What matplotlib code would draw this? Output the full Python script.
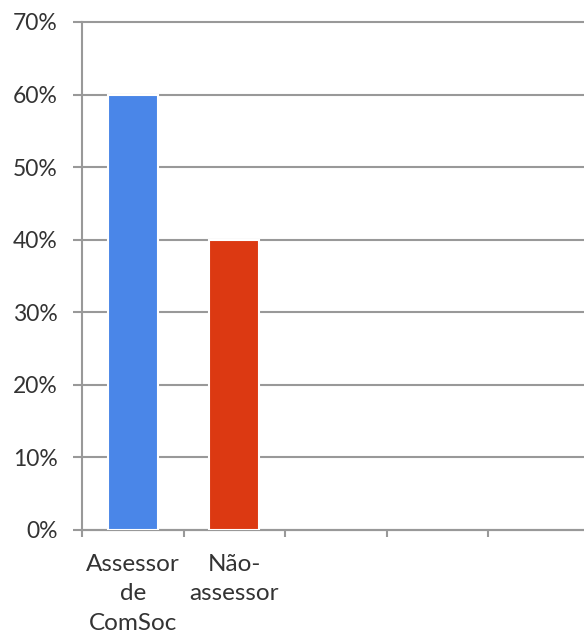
import matplotlib.pyplot as plt
from matplotlib.ticker import FuncFormatter

# categories and values (percent)
categories = ["Assessor\nde\nComSoc", "Não-\nassessor", "", "", ""]
values = [60, 40]
colors = ["#4a86e8", "#dc3912"]
yticks = [0, 10, 20, 30, 40, 50, 60, 70]

plt.rcParams['font.family'] = ['Lato', 'DejaVu Sans']

fig = plt.figure(figsize=(5.84, 6.39), dpi=100)
W, H = 584, 639
left, right = 82, 589.5
bottom, top = 530, 22
ax = fig.add_axes([left / W, 1 - bottom / H, (right - left) / W, (bottom - top) / H])

x = list(range(len(categories)))
ax.bar(x[:len(values)], values, width=0.49, color=colors, edgecolor="white",
       linewidth=1.5, zorder=3)

ax.set_xlim(-0.5, len(categories) - 0.5)
ax.set_ylim(0, 70)
ax.set_yticks(yticks)
ax.yaxis.set_major_formatter(FuncFormatter(lambda v, p: f"{int(v)}%"))
ax.set_xticks([i - 0.5 for i in range(len(categories))])
ax.set_xticklabels([])
ax.set_xticks(x, minor=True)
ax.set_xticklabels(categories, minor=True, fontsize=17.5, color="#333333",
                   linespacing=1.5)
ax.tick_params(axis="x", which="minor", length=0, pad=17)
ax.tick_params(axis="x", which="major", length=5, width=1.5, color="#999999")
ax.tick_params(axis="y", length=6.5, width=1.5, color="#999999",
               labelsize=16.5, labelcolor="#333333", pad=11)

ax.grid(axis="y", color="#999999", linewidth=1.5, zorder=0)
for g in ax.yaxis.get_gridlines():
    g.set_clip_on(False)
ax.set_axisbelow(True)
for s in ["top", "right"]:
    ax.spines[s].set_visible(False)
for s in ["left", "bottom"]:
    ax.spines[s].set_color("#999999")
    ax.spines[s].set_linewidth(1.5)

fig.savefig("out.png", dpi=100)
